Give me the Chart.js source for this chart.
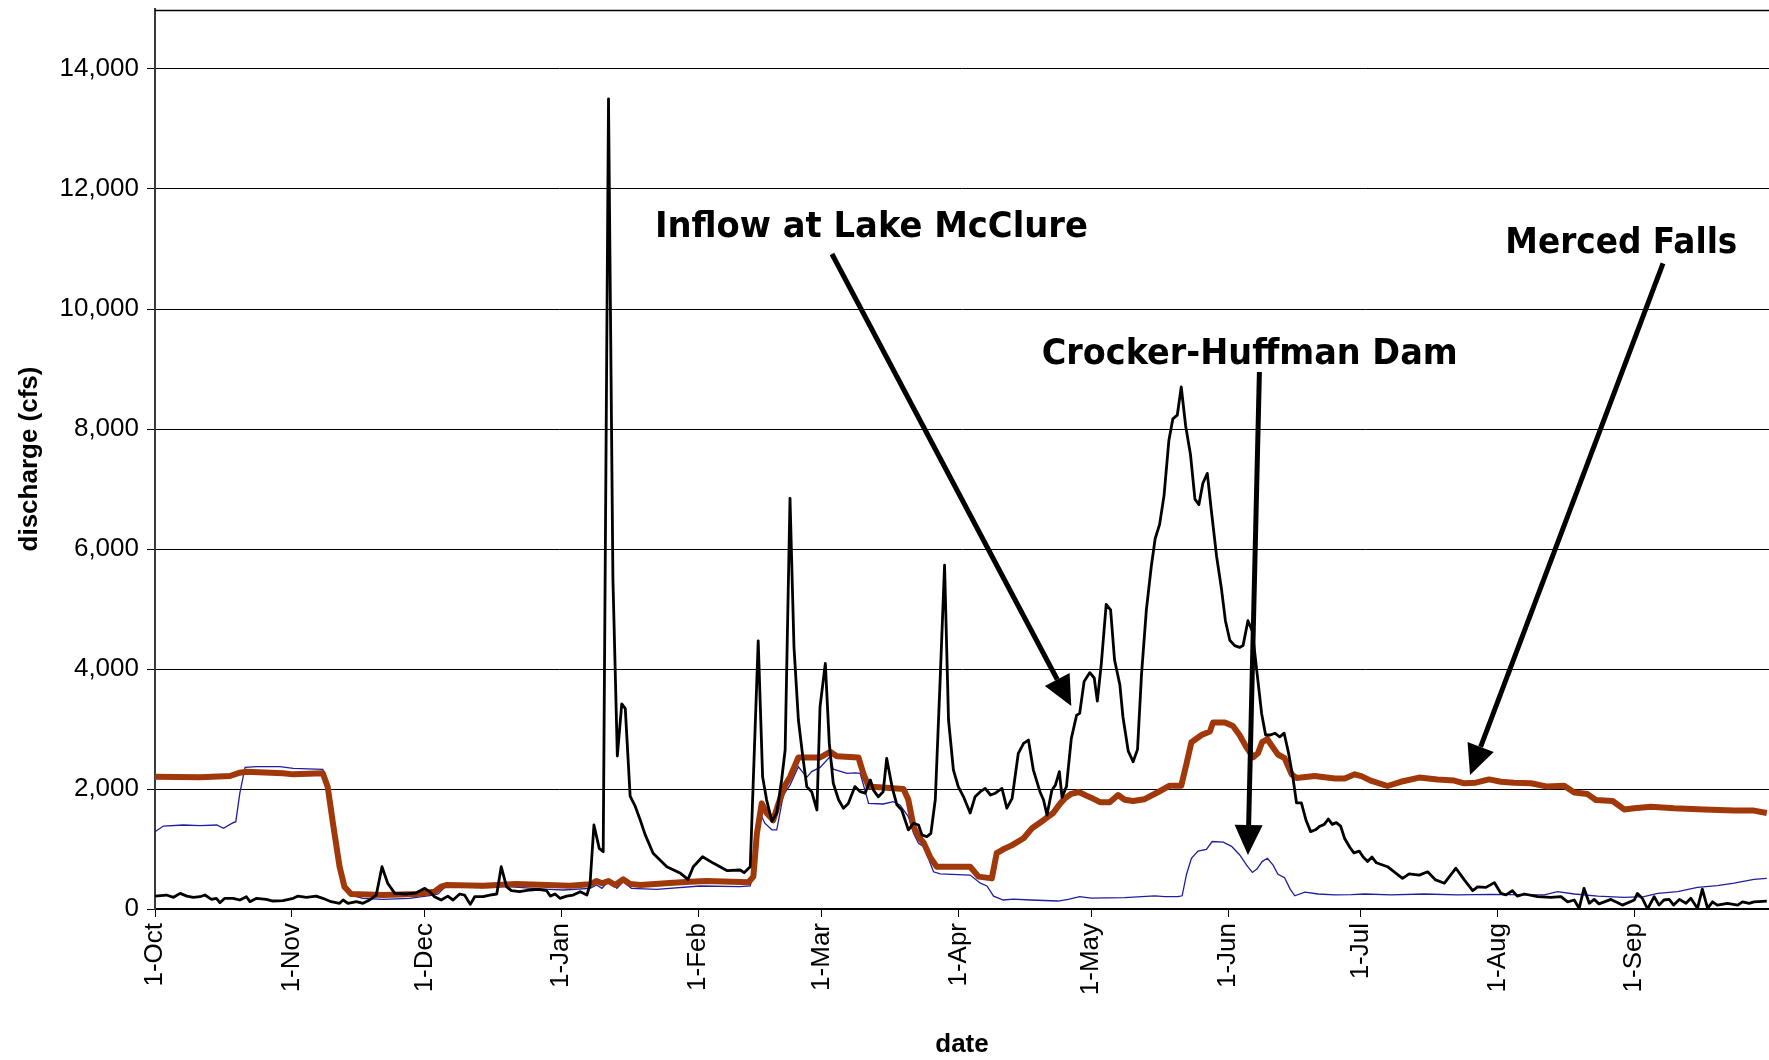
<!DOCTYPE html>
<html>
<head>
<meta charset="utf-8">
<title>discharge</title>
<script src="https://cdn.jsdelivr.net/npm/chart.js@4/dist/chart.umd.min.js"></script>
<style>
  html, body { margin:0; padding:0; background:#fff; }
  #wrap { width:1769px; height:1060px; position:relative; }
</style>
</head>
<body>
<div id="wrap"><canvas id="chart"></canvas></div>
<script>
// x = day of the water year (0 = 1-Oct), y = discharge in cfs

// month ticks
var monthTicks  = [0, 31, 61, 92, 123, 151, 182, 212, 243, 273, 304, 335];
var monthLabels = ['1-Oct','1-Nov','1-Dec','1-Jan','1-Feb','1-Mar','1-Apr','1-May','1-Jun','1-Jul','1-Aug','1-Sep'];
var cfsTicks    = [0, 2000, 4000, 6000, 8000, 10000, 12000, 14000];

// Inflow at Lake McClure (black)
var inflowDays = [0,2.6,4.2,5.7,7.2,8.7,10.2,11.3,12.8,13.9,14.7,15.8,17.7,19.2,20.7,21.5,23,25.2,26.7,29,31.3,32.4,34.3,36.5,38,39.9,41.8,42.6,43.7,45.6,47.1,48.6,50.1,51.4,52.7,54.3,56.9,59.2,61.1,62.2,63.3,64.8,66.3,67.5,69,70.1,71.4,72.4,74.3,75.8,77.4,78.4,79.6,80.7,82.6,84.9,86.8,88.7,89.5,90.6,91.7,93.2,94.7,96.3,97.8,98.5,99.4,100.6,101.5,102.7,103.7,104.7,105.7,106.5,107.6,108.7,109.9,111,112.8,115.9,119,120.7,121.9,124,126.5,129.6,132.5,133.4,134.8,
  136.6,137.6,138.5,139.7,140.8,141.9,142.7,143.8,144.7,145.7,146.7,147.6,148.7,149.9,150.6,151.8,152.7,153.6,154.8,155.9,157,158.5,159.7,160.8,162,162.7,163.8,164.9,165.7,166.9,168,169.1,170.6,171.8,172.9,173.7,174.8,175.7,176.7,177.8,178.8,179.7,180.8,181.9,183.1,184.6,185.7,186.9,188,189.2,190.3,191.8,192.9,194.1,195.5,196.7,197.8,198.9,200.4,201.2,202,203.1,203.9,204.8,205.4,206.4,207.5,208.7,209.4,210.4,211.7,212.7,213.4,214.3,215.4,216.4,217.3,218.5,219.2,220.4,221.5,222.5,223.4,224.5,225.6,226.5,227.5,228.5,229.6,230.5,231.5,232.4,233.4,234.5,235.5,236.4,237.3,238.3,239.2,240.4,241.5,242.4,243.4,244.5,245.6,246.4,247.5,248.5,249.6,250.6,251.5,252.6,253.6,254.7,255.7,256.7,257.7,258.5,259.6,260.7,261.7,262.8,263.8,264.8,265.7,266.6,267.5,268.5,269.4,270.6,271.5,272.7,273.6,274.6,275.6,276.6,
  279.1,282.5,284,286.3,288.2,290,292,294.6,296.5,298.4,299.5,301.4,303.3,304.8,305.9,307.4,308.5,310.1,313.1,316.1,318.4,319.9,321.4,322.5,323.6,324.8,325.9,327,329.7,332.3,335,335.7,336.8,338,339.5,340.6,341.7,342.9,343.9,345.2,346.7,347.8,349.3,350.4,351.6,352.7,353.8,356.1,358.4,359.5,361,362.1,365];
var inflowCfs = [215,233,195,260,215,195,205,233,160,178,105,178,178,150,205,122,178,160,133,140,178,215,195,215,178,122,95,150,95,122,95,150,233,705,428,260,250,270,345,290,205,150,215,150,250,233,77,205,205,233,250,705,372,305,290,317,328,305,215,250,178,215,233,289,233,400,1400,1010,955,13500,5500,2550,3420,3340,1880,1720,1480,1240,930,705,595,494,705,872,761,639,650,605,705,
  4470,2200,1820,1460,1600,2150,2650,6845,4370,3150,2540,2040,1955,1650,3370,4095,2760,2095,1820,1680,1760,2040,1955,1930,2150,1980,1870,1955,2510,2040,1735,1650,1320,1430,1400,1230,1205,1260,1820,3815,5730,3150,2320,2040,1870,1600,1870,1955,2010,1900,1930,2010,1680,1845,2595,2760,2815,2320,1955,1820,1565,1980,2065,2290,1860,2040,2840,3230,3260,3790,3940,3850,3465,4090,5075,4985,4150,3735,3200,2630,2455,2660,3910,4985,5700,6175,6410,6890,7810,8170,8230,8700,8050,7570,6830,6740,7095,7260,6650,5880,5340,4805,4480,4390,4360,4390,4805,4630,3910,3260,2900,2900,2930,2870,2930,2600,2185,1770,1770,1470,1290,1320,1380,1410,1500,1410,1440,1380,1175,1025,935,965,865,790,865,770,
  705,510,585,565,620,485,430,680,485,305,370,360,440,260,235,305,215,250,205,195,205,120,150,10,345,95,160,85,160,65,150,260,180,0,205,65,150,160,65,160,95,180,10,330,10,120,65,95,65,120,95,120,130];

// Crocker-Huffman Dam (blue)
var crockerDays = [0,1.9,6.4,10.2,14,15.5,17.4,18.3,19.2,20.4,23,28.3,31.3,38,39.1,40.7,42.6,44.1,47.1,51.6,57.6,63,64.1,65.6,66.8,74.3,77.4,78.4,80,85.6,89.4,92.4,98.5,100,101.2,102.7,104.6,106,107.9,113.6,123.4,132.5,134.8,136,137,138.1,139.7,140.8,142.3,143.8,145.7,147.6,148.7,150.6,152.9,153.6,156.7,158.5,159.7,161.6,164.9,167.2,168.7,170.6,171.8,172.9,174.1,176.3,177.8,184.6,186.9,188.4,189.9,192.1,194.4,198.2,204.5,206.8,209.4,212,219.6,226.4,228.7,231.7,232.6,233.6,234.7,236.2,238.1,239.4,241.9,243.8,245.6,247.2,248.5,249.6,250.7,251.9,253.2,254.3,255.8,257,258.1,260.4,263.4,267.2,270.9,274,279.9,287.4,294.9,302.5,310.1,314.6,317.6,321.4,326.7,332.7,337.2,340.3,344.8,349.3,353.8,357.6,362.1,365];
var crockerCfs = [1289,1383,1400,1389,1400,1344,1428,1455,1928,2361,2372,2372,2344,2328,2094,1372,483,233,178,161,178,233,250,361,372,356,361,439,372,344,328,317,344,400,344,467,344,455,344,328,383,372,385,760,1600,1430,1320,1320,1900,2065,2370,2195,2290,2360,2540,2330,2260,2270,2260,1760,1750,1790,1735,1540,1260,1095,1040,620,585,565,430,385,215,150,165,150,133,160,205,180,190,220,205,205,220,580,845,965,995,1125,1115,1045,905,730,610,670,790,845,730,580,520,340,220,280,250,235,240,250,235,250,235,245,235,235,290,250,215,195,205,260,290,360,390,430,495,510];

// Merced Falls (brown)
var mercedDays = [0,10.2,17,19.2,20.7,29,31.3,38,39.1,40.3,41.8,42.9,44.4,51.6,59.2,63.3,64.8,66,74.3,81.8,93.9,98.5,100,101.2,102.7,104.2,106,107.6,109.9,117.4,121.2,124.9,134.4,135.5,136.3,137.4,138.5,140,141.2,142.7,143.8,145.7,150.6,152.9,154.4,159.3,160.4,161.6,169.5,170.6,171.8,172.9,174.1,175.5,177,184.6,186.5,189.5,190.6,192.1,194,196.7,198.6,201.2,203.4,205,206,207.5,209.2,210.9,212.4,214,216.2,218.1,219.6,221.5,224.1,227.2,229.8,232.4,233.6,234.7,237,238.9,239.6,242.3,244.1,245.6,247.2,248.7,249.8,250.7,251.9,253.2,254.3,255.8,257.4,258.5,262.6,267.2,269.4,271.7,273.2,275.3,279.1,282.1,286.3,290.4,294.2,296.5,299.1,302.1,304.8,307.8,311.6,315.3,319.1,321.4,324.4,326.3,330.1,332.7,335,338.7,344,350.8,357.6,362.1,365];
var mercedCfs = [2206,2194,2217,2272,2289,2261,2244,2261,2039,1428,705,372,250,233,250,289,372,400,389,417,389,411,467,428,467,400,494,417,400,439,455,467,445,540,1260,1760,1600,1480,1760,2065,2200,2525,2525,2620,2545,2525,2260,2040,2000,1820,1370,1205,1100,870,705,705,540,510,930,995,1060,1180,1345,1480,1600,1760,1840,1920,1950,1890,1840,1780,1780,1900,1820,1800,1830,1950,2055,2055,2425,2780,2900,2960,3110,3110,3050,2900,2690,2530,2600,2780,2830,2690,2575,2515,2245,2185,2215,2175,2175,2245,2215,2140,2050,2120,2190,2160,2140,2095,2105,2160,2120,2105,2095,2040,2055,1940,1915,1817,1800,1660,1680,1705,1680,1660,1640,1640,1600];

// annotation texts
var noteTexts = ['Inflow at Lake McClure', 'Crocker-Huffman Dam', 'Merced Falls'];

function toPoints(xs, ys){
  return xs.map(function(x, i){ return {x: x, y: ys[i]}; });
}

// where the notes and arrows sit, in axis units (day, cfs)
var notes = [
  {text: noteTexts[0], x: 113.2, y: 11200, w: 433, from: [153.3, 10917], to: [207.5, 3383]},
  {text: noteTexts[1], x: 200.8, y: 9083,  w: 416, from: [250.1, 8950],  to: [247.5, 900]},
  {text: noteTexts[2], x: 305.8, y: 10938, w: 232, from: [341.5, 10760], to: [297.8, 2233]}
];

function drawArrow(ctx, x0, y0, x1, y1){
  var dx = x1 - x0, dy = y1 - y0;
  var len = Math.sqrt(dx*dx + dy*dy);
  var ux = dx/len, uy = dy/len;
  var headLen = 30, half = 14;
  var bx = x1 - ux*headLen, by = y1 - uy*headLen;
  ctx.beginPath();
  ctx.moveTo(x0, y0);
  ctx.lineTo(bx, by);
  ctx.lineWidth = 5;
  ctx.strokeStyle = '#000';
  ctx.stroke();
  ctx.beginPath();
  ctx.moveTo(x1, y1);
  ctx.lineTo(bx - uy*half, by + ux*half);
  ctx.lineTo(bx + uy*half, by - ux*half);
  ctx.closePath();
  ctx.fillStyle = '#000';
  ctx.fill();
}

var notePlugin = {
  id: 'notes',
  afterDraw: function(chart){
    var ctx = chart.ctx, xs = chart.scales.x, ys = chart.scales.y, a = chart.chartArea;
    ctx.save();
    // top border of the plot
    ctx.beginPath();
    ctx.moveTo(a.left, a.top + 1.5);
    ctx.lineTo(a.right, a.top + 1.5);
    ctx.lineWidth = 1.5;
    ctx.strokeStyle = '#000';
    ctx.stroke();

    notes.forEach(function(n){
      ctx.font = 'bold 36px "DejaVu Sans", Verdana, sans-serif';
      ctx.fillStyle = '#000';
      ctx.textAlign = 'left';
      ctx.textBaseline = 'alphabetic';
      ctx.fillText(n.text, xs.getPixelForValue(n.x), ys.getPixelForValue(n.y), n.w);
      drawArrow(ctx,
        xs.getPixelForValue(n.from[0]), ys.getPixelForValue(n.from[1]),
        xs.getPixelForValue(n.to[0]), ys.getPixelForValue(n.to[1]));
    });
    ctx.restore();
  }
};

var tickFont = {family: '"Liberation Sans", Arial, sans-serif', size: 26};
var titleFont = {family: '"Liberation Sans", Arial, sans-serif', size: 26, weight: 'bold'};

new Chart(document.getElementById('chart').getContext('2d'), {
  type: 'line',
  data: {
    datasets: [
      {label: 'Inflow at Lake McClure', data: toPoints(inflowDays, inflowCfs),
       borderColor: '#000', borderWidth: 2.8, pointRadius: 0, borderJoinStyle: 'round', tension: 0},
      {label: 'Merced Falls', data: toPoints(mercedDays, mercedCfs),
       borderColor: '#a0380a', borderWidth: 6, pointRadius: 0, borderJoinStyle: 'round', tension: 0},
      {label: 'Crocker-Huffman Dam', data: toPoints(crockerDays, crockerCfs),
       borderColor: '#1e1e9e', borderWidth: 1.3, pointRadius: 0, tension: 0}
    ]
  },
  options: {
    responsive: true,
    maintainAspectRatio: false,
    animation: false,
    layout: { padding: {top: 9, right: 0, bottom: 0, left: 0} },
    plugins: { legend: {display: false}, tooltip: {enabled: false} },
    scales: {
      x: {
        type: 'linear',
        min: 0,
        max: 365.5,
        afterBuildTicks: function(s){ s.ticks = monthTicks.map(function(v){ return {value: v}; }); },
        afterFit: function(s){ s.height = 151; s.paddingLeft = 0; s.paddingRight = 0; },
        ticks: {
          autoSkip: false, minRotation: 90, maxRotation: 90, padding: 6,
          color: '#000', font: tickFont,
          callback: function(v){ var i = monthTicks.indexOf(v); return i >= 0 ? monthLabels[i] : ''; }
        },
        grid: { drawOnChartArea: false, color: '#000', tickLength: 8, lineWidth: 1 },
        border: { display: true, color: '#000', width: 1.5 },
        title: { display: true, text: 'date', color: '#000', font: titleFont, padding: {top: 0, bottom: 0} }
      },
      y: {
        min: 0,
        max: 15000,
        afterBuildTicks: function(s){ s.ticks = cfsTicks.map(function(v){ return {value: v}; }); },
        afterFit: function(s){ s.width = 155; s.paddingTop = 0; s.paddingBottom = 0; },
        ticks: {
          padding: 8, color: '#000', font: tickFont,
          callback: function(v){ return v.toLocaleString('en-US'); }
        },
        grid: { color: '#000', lineWidth: 1, tickLength: 8 },
        border: { display: true, color: '#3a3a3a', width: 2 },
        title: { display: true, text: 'discharge (cfs)', color: '#000', font: titleFont, padding: {top: 14, bottom: 0} }
      }
    }
  },
  plugins: [notePlugin]
});
</script>
</body>
</html>
